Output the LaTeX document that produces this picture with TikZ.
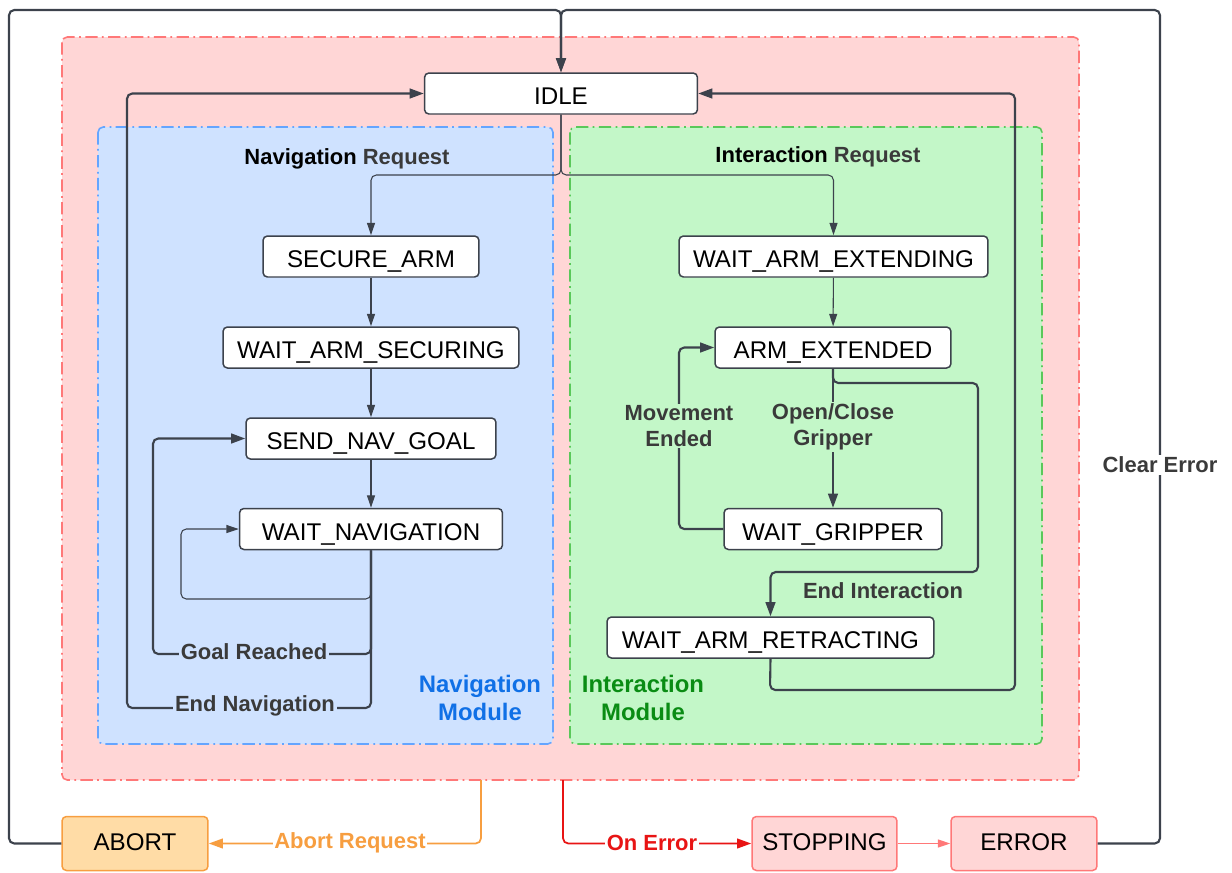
\documentclass[tikz,border=0pt]{standalone}
\usepackage{fontspec}
\setmainfont{Liberation Sans}
\usetikzlibrary{arrows.meta}
\definecolor{linegray}{RGB}{60,66,76}
\definecolor{labelgray}{RGB}{58,58,58}
\definecolor{redfill}{RGB}{255,214,214}
\definecolor{redline}{RGB}{255,120,120}
\definecolor{bluefill}{RGB}{207,226,255}
\definecolor{blueline}{RGB}{100,165,255}
\definecolor{greenfill}{RGB}{195,247,200}
\definecolor{greenline}{RGB}{90,200,90}
\definecolor{abortfill}{RGB}{255,220,166}
\definecolor{abortline}{RGB}{247,158,64}
\definecolor{errline}{RGB}{232,20,20}
\definecolor{navtext}{RGB}{16,112,230}
\definecolor{inttext}{RGB}{10,140,20}
\begin{document}
\begin{tikzpicture}
	[x=0.02cm,y=-0.02cm,
	state/.style={draw=linegray,line width=0.85pt,rounded corners=2.5pt,fill=white,minimum height=0.82cm,inner sep=0pt,text height=12.6pt,text depth=0pt,font=\fontsize{13.75}{16}\selectfont},
	endstate/.style={state,minimum height=1.08cm,text height=7.6pt},
	region/.style={line width=0.9pt,rounded corners=3pt,dash pattern=on 7pt off 2.5pt on 1pt off 2.5pt},
	lbl/.style={font=\fontsize{12.5}{14.8}\selectfont\bfseries,text=labelgray,inner sep=1pt,align=center},
	modlbl/.style={font=\fontsize{13.6}{16}\selectfont\bfseries,align=center},
	flow/.style={draw=linegray,line width=1.2pt,rounded corners=3pt,-{Triangle[length=8pt,width=5.5pt]}},
	thinflow/.style={draw=linegray,line width=0.6pt,rounded corners=3pt,-{Triangle[length=7pt,width=4.5pt]}}]
	\useasboundingbox (0,0) rectangle (1232,873);
	% modules
	\draw[region,draw=redline,fill=redfill] (62,37) rectangle (1079,780);
	\draw[region,draw=blueline,fill=bluefill] (98,127) rectangle (553,744);
	\draw[region,draw=greenline,fill=greenfill] (570,127) rectangle (1042,744);
	% states
	\node[state,name=idle,minimum width=5.46cm] at (561,93.5) {IDLE};
	\node[state,name=secure,minimum width=4.32cm] at (371,256.5) {SECURE\_ARM};
	\node[state,name=securing,minimum width=5.92cm] at (371,347.5) {WAIT\_ARM\_SECURING};
	\node[state,name=sendnav,minimum width=5.0cm] at (371,438.5) {SEND\_NAV\_GOAL};
	\node[state,name=waitnav,minimum width=5.26cm] at (371,529) {WAIT\_NAVIGATION};
	\node[state,name=extending,minimum width=6.18cm] at (833.5,256.5) {WAIT\_ARM\_EXTENDING};
	\node[state,name=extended,minimum width=4.72cm] at (833,347.5) {ARM\_EXTENDED};
	\node[state,name=gripper,minimum width=4.36cm] at (833,529) {WAIT\_GRIPPER};
	\node[state,name=retracting,minimum width=6.54cm] at (770.5,637.5) {WAIT\_ARM\_RETRACTING};
	\node[endstate,name=abort,draw=abortline,fill=abortfill,minimum width=2.92cm] at (135,843.5) {ABORT};
	\node[endstate,name=stopping,draw=redline,fill=redfill,minimum width=2.9cm] at (824.5,843.5) {STOPPING};
	\node[endstate,name=error,draw=redline,fill=redfill,minimum width=2.92cm] at (1024,843.5) {ERROR};
	\coordinate (abortsrc) at (481,780);
	\coordinate (errsrc) at (563,780);
	% connectors
	\draw[flow] (abort.west) -| (9,10) -| (idle.north);
	\draw[flow] (error.east) -| (1160,10) -| (idle.north);
	\draw[thinflow] (idle.south) -- (561,175) -| (secure.north);
	\draw[thinflow] (idle.south) -- (561,175) -| (extending.north);
	\draw[thinflow] (secure) -- (securing);
	\draw[thinflow] (securing) -- (sendnav);
	\draw[thinflow] (sendnav) -- (waitnav);
	\draw[thinflow] (waitnav.south) -- (371,599) -| (181,529) -- (waitnav.west);
	\draw[flow] (waitnav.south) -- (371,654) -| (153,438.5) -- (sendnav.west);
	\draw[flow] (waitnav.south) -- (371,708) -| (127,93.5) -- (idle.west);
	\draw[thinflow] (extending) -- (extended);
	\draw[flow] (extended) -- (gripper);
	\draw[flow] (gripper.west) -| (679,347.5) -- (extended.west);
	\draw[flow] (extended.south) -- (833,383) -| (978,572) -| (retracting.north);
	\draw[flow] (retracting.south) -- (770,690) -| (1015,93.5) -- (idle.east);
	\draw[abortline,line width=1pt,rounded corners=3pt,-{Triangle[length=8pt,width=5.5pt]}] (abortsrc) |- (abort.east);
	\draw[errline,line width=1pt,rounded corners=3pt,-{Triangle[length=8pt,width=5.5pt]}] (errsrc) |- (stopping.west);
	\draw[redline,line width=0.8pt,-{Triangle[length=7pt,width=4.5pt]}] (stopping) -- (error);
	% labels
	\node[lbl,name=navreq] at (347,159) {\textcolor{black}{Navigation} Request};
	\node[lbl,name=intreq] at (818,157) {\textcolor{black}{Interaction} Request};
	\node[lbl,name=goal,fill=bluefill] at (254,652) {Goal Reached};
	\node[lbl,name=endnav,fill=bluefill] at (255,706) {End Navigation};
	\node[lbl,name=moved,fill=greenfill] at (679,426) {Movement\\Ended};
	\node[lbl,name=openclose,fill=greenfill] at (833,427) {Open/Close\\Gripper};
	\node[lbl,name=endint] at (883,591) {End Interaction};
	\node[lbl,name=clear,fill=white] at (1160,465) {Clear Error};
	\node[lbl,name=abortreq,fill=white,text=abortline] at (350,843) {Abort Request};
	\node[lbl,name=onerr,fill=white,text=errline] at (652,843) {On Error};
	\node[modlbl,name=navmod,text=navtext] at (480,698) {Navigation\\Module};
	\node[modlbl,name=intmod,text=inttext] at (643,698) {Interaction\\Module};
\end{tikzpicture}
\end{document}
